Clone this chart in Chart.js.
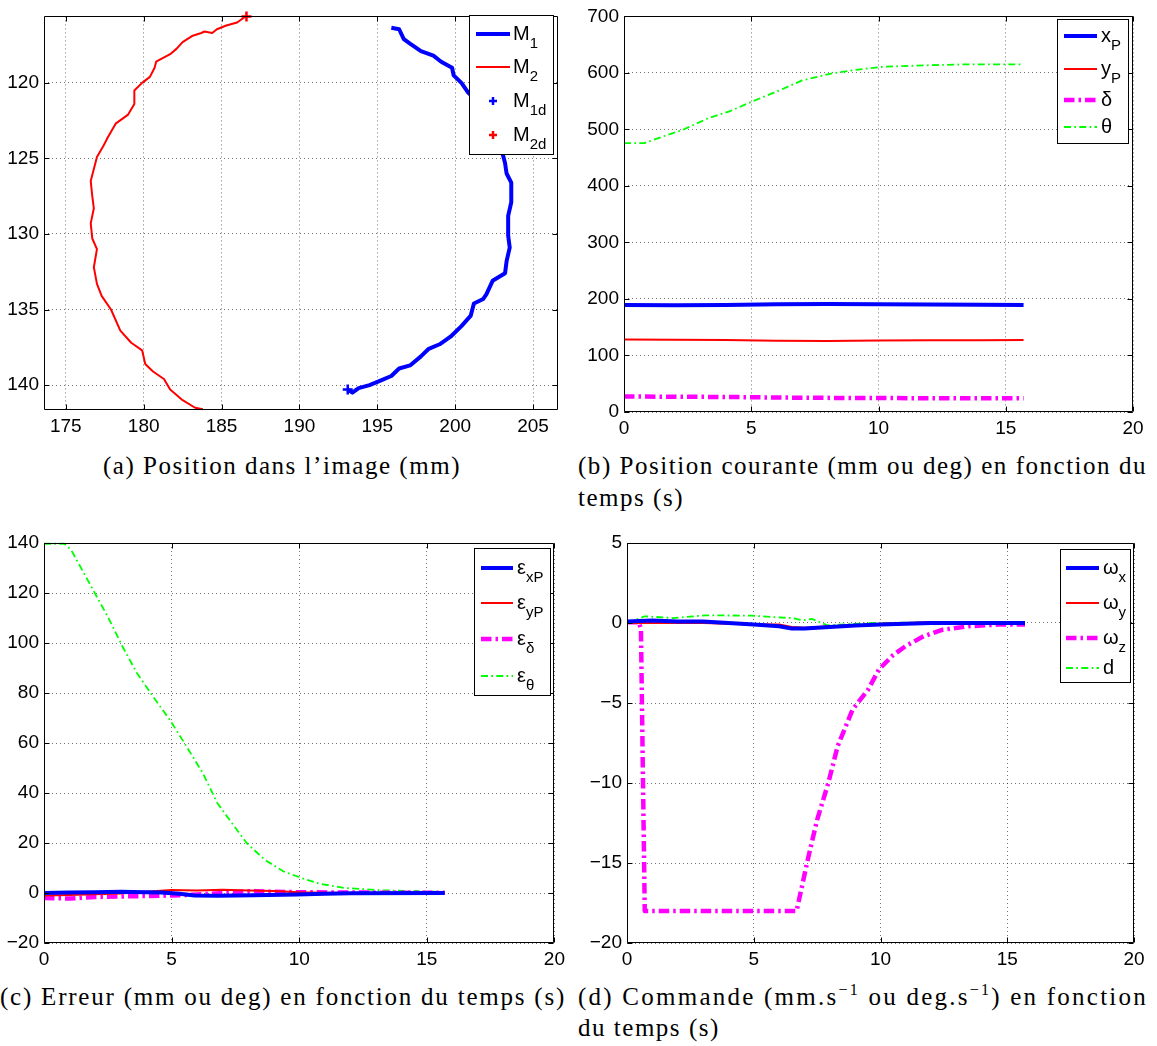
<!DOCTYPE html>
<html><head><meta charset="utf-8">
<script src="https://cdn.jsdelivr.net/npm/chart.js@4.4.1/dist/chart.umd.min.js"></script>
<style>
html,body{margin:0;padding:0;background:#fff}
body{width:1157px;height:1046px;position:relative;overflow:hidden}
canvas{position:absolute}
.cap{position:absolute;font-family:"Liberation Serif","Times New Roman",serif;font-size:25px;line-height:28px;white-space:nowrap;color:#000}
.cap sup{font-size:16px;line-height:0;vertical-align:10px}
</style></head><body>
<canvas id="ca"></canvas><canvas id="cb"></canvas><canvas id="cc"></canvas><canvas id="cd"></canvas>
<div class="cap" data-w="358" style="left:103px;top:452px">(a) Position dans l’image (mm)</div>
<div class="cap" data-w="569" style="left:578px;top:452px">(b) Position courante (mm ou deg) en fonction du</div>
<div class="cap" style="left:578px;top:484px">temps (s)</div>
<div class="cap" data-w="566" style="left:0px;top:983px">(c) Erreur (mm ou deg) en fonction du temps (s)</div>
<div class="cap" data-w="570" style="left:578px;top:983px">(d) Commande (mm.s<sup>−1</sup> ou deg.s<sup>−1</sup>) en fonction</div>
<div class="cap" style="left:578px;top:1014px">du temps (s)</div>
<script>
// ---------------- DATA ----------------
// (a) Position dans l'image (mm)
const m1X = [195.9,196.4,196.7,197.1,197.8,198.6,199.1,199.8,199.9,200.4,200.8,201.6,202.3,202.7,203.1,203.2,203.3,203.6,203.6,203.4,203.4,203.5,203.3,203.2,202.4,202.0,201.8,201.2,201.0,200.4,199.7,199.0,198.3,197.8,197.1,196.4,195.9,195.2,194.5,193.8,193.4,193.1];
const m1Y = [116.35,116.45,117.1,117.4,117.9,118.2,118.6,119.0,119.5,120.0,120.6,121.4,122.5,123.6,124.9,125.3,126.0,126.6,127.9,128.8,130.1,130.9,131.8,132.6,133.1,134.0,134.3,134.6,135.4,136.1,136.8,137.3,137.6,138.1,138.7,138.9,139.4,139.7,140.0,140.2,140.5,140.3];
const m2X = [186.56,186.0,185.3,184.7,184.4,183.9,183.7,183.1,182.5,182.1,181.7,180.8,180.7,180.4,179.9,179.4,179.4,179.0,178.2,177.7,177.4,177.0,176.8,176.6,176.7,176.8,176.6,176.7,177.0,176.8,177.0,177.3,177.9,178.5,179.2,179.9,180.1,180.6,181.3,181.7,182.5,183.3,183.8];
const m2Y = [115.59,116.0,116.2,116.45,116.7,116.6,116.7,116.9,117.3,117.75,118.1,118.6,119.0,119.6,120.0,120.5,121.4,122.1,122.7,123.6,124.2,124.9,125.7,126.5,127.5,128.3,129.3,130.3,131.0,132.2,133.3,134.1,135.0,136.4,137.2,137.7,138.6,139.1,139.6,140.3,141.0,141.5,141.6];
const m1d = [193.1, 140.3];
const m2d = [186.6, 115.6];
const aXTicks = [175,180,185,190,195,200,205];
const aYTicks = [120,125,130,135,140];

// (b) Position courante
const tTheta = [0,0.8,1.5,2.3,3.3,4.2,5.0,6.1,7.0,8.2,9.1,10.2,11.9,13.3,15.7];
const theta  = [475.8,475.8,487,499,519.6,533,548.7,569,586.7,599.5,605.4,611,613.5,615,615.3];
const tB     = [0,2,4,6,8,10,12,14,15.7];
const xP     = [189.5,189,189.5,190.5,191,190.5,190,189.8,189.5];
const yP     = [128.4,128,127.2,126,125.6,126.4,126.8,127.1,127.3];
const delta  = [27.4,27,26.6,25.6,25,24.6,24.5,24.5,24.5];
const bXTicks = [0,5,10,15,20];
const bYTicks = [0,100,200,300,400,500,600,700];

// (c) Erreur
const tETheta = [0,0.8,1.06,1.92,2.49,3.07,3.64,4.36,4.93,5.5,6.22,6.79,7.36,7.94,8.65,9.37,10.09,10.8,11.8,13.24,14.67,15.7];
const eTheta  = [139.7,139.7,137.3,121.3,110.7,98.7,88,77.3,69.3,60,48,36,28,20,13.3,8.7,6,3.7,2,1.07,0.7,0.4];
const tEX     = [0,1,2,3,4,4.6,5.3,5.9,6.8,8.2,9.9,11,12,15.7];
const eXP     = [0,0.2,0.3,0.5,0.3,0.2,-0.3,-1,-1.1,-0.9,-0.6,-0.3,-0.1,0];
const tEY     = [0,1,2,3,4,5,6,7,8,9,10,11,12,15.7];
const eYP     = [-1,-0.8,-0.5,-0.2,0.5,1.2,1,1.3,1,0.8,0.3,0.1,0,0];
const tED     = [0,1,2,3,4,5,6,7,8,9,10,12,14,15.7];
const eDelta  = [-2,-2.2,-1.6,-1.4,-1.2,-1,-0.6,0,0.7,0.5,0.3,0.2,0.1,0.1];
const cYTicks = [-20,0,20,40,60,80,100,120,140];

// (d) Commande
const tWz = [0,0.47,0.55,0.7,6.69,7.13,7.5,7.94,8.31,8.9,9.5,9.94,10.5,10.98,11.7,12.46,13.5,14.67,15.7];
const wz  = [0.05,0.05,-0.4,-18,-18,-14.8,-12.3,-10,-7.7,-5.4,-4.2,-2.9,-2.0,-1.46,-0.83,-0.42,-0.2,-0.1,-0.1];
const tW  = [0,1,2,3,4,5,6,6.5,7,8,9,10,12,14,15.7];
const wx  = [0.1,0.15,0.1,0.1,0,-0.1,-0.2,-0.35,-0.35,-0.25,-0.15,-0.1,0,0,0];
const wy  = [0,0,0,0,-0.05,-0.1,-0.1,-0.25,-0.3,-0.2,-0.15,-0.05,0.05,0.05,0.05];
const tDd = [0,0.7,1.8,3.1,4.9,5.95,6.5,6.9,7.3,7.9,8.8,9.8,12,15.7];
const dd  = [0,0.42,0.31,0.48,0.46,0.35,0.31,0.17,0.25,-0.15,-0.06,0,0.04,0.04];
const dYTicks = [-20,-15,-10,-5,0,5];

// ---------------- STYLE ----------------
const FONT = '"Liberation Sans", Arial, Helvetica, sans-serif';
const BLUE='#0000ff', RED='#ff0000', MAG='#ff00ff', GRN='#00ff00';
const ST = {
  thickBlue: {color:BLUE, width:4, dash:[]},
  thinRed:   {color:RED, width:2, dash:[]},
  magDD:     {color:MAG, width:4.5, dash:[10.5,4,2.5,4]},
  grnDD:     {color:GRN, width:1.8, dash:[7,3.3,1.7,3.3]}
};
function pts(xs, ys){ return xs.map((x,i)=>({x:x, y:ys[i]})); }
function line(xs, ys, st){
  return {data:pts(xs,ys), showLine:true, borderColor:st.color, backgroundColor:st.color,
    borderWidth:st.width, borderDash:st.dash, borderCapStyle:'butt', borderJoinStyle:'round',
    pointRadius:0, pointHoverRadius:0, tension:0, fill:false, clip:3};
}
function marker(p, color){
  return {data:[{x:p[0], y:p[1]}], showLine:false, pointStyle:'cross', pointRadius:5,
    pointBorderWidth:2.5, borderColor:color, backgroundColor:color, pointHoverRadius:0, clip:false};
}
const minusFmt = v => String(v).replace('-', '\u2212');

const framePlugin = {
  id:'frame',
  afterDraw(chart, args, o){
    const ctx = chart.ctx, a = chart.chartArea, sx = chart.scales.x, sy = chart.scales.y;
    ctx.save();
    ctx.strokeStyle = '#000'; ctx.lineWidth = 1; ctx.setLineDash([]);
    const L=Math.round(a.left)+0.5, R=Math.round(a.right)-0.5, T=Math.round(a.top)+0.5, B=Math.round(a.bottom)-0.5;
    ctx.beginPath(); ctx.rect(L, T, R-L, B-T); ctx.stroke();
    const tl = 5;
    ctx.beginPath();
    sx.ticks.forEach(t=>{ const p=Math.round(sx.getPixelForValue(t.value))+0.5;
      ctx.moveTo(p,B); ctx.lineTo(p,B-tl); ctx.moveTo(p,T); ctx.lineTo(p,T+tl); });
    sy.ticks.forEach(t=>{ const p=Math.round(sy.getPixelForValue(t.value))+0.5;
      ctx.moveTo(L,p); ctx.lineTo(L+tl,p); ctx.moveTo(R,p); ctx.lineTo(R-tl,p); });
    ctx.stroke();
    // legend
    const lg = o.legend;
    if (lg){
      const ox=o.ox, oy=o.oy;
      const bx=lg.box[0]-ox, by=lg.box[1]-oy, bw=lg.box[2]-lg.box[0], bh=lg.box[3]-lg.box[1];
      ctx.fillStyle='#fff'; ctx.fillRect(bx,by,bw,bh);
      ctx.strokeStyle='#000'; ctx.lineWidth=1;
      ctx.strokeRect(Math.round(bx)+0.5, Math.round(by)+0.5, Math.round(bw), Math.round(bh));
      lg.entries.forEach(e=>{
        const y = e.y - oy;
        const x1 = lg.x1-ox, x2 = lg.x2-ox;
        if (e.marker){
          const cx=(x1+x2)/2; ctx.strokeStyle=e.marker; ctx.lineWidth=2.5; ctx.setLineDash([]);
          ctx.beginPath(); ctx.moveTo(cx-4,y); ctx.lineTo(cx+4,y); ctx.moveTo(cx,y-4); ctx.lineTo(cx,y+4); ctx.stroke();
        } else {
          ctx.strokeStyle=e.st.color; ctx.lineWidth=e.st.width; ctx.setLineDash(e.st.dash); ctx.lineCap='butt';
          ctx.beginPath(); ctx.moveTo(x1,y); ctx.lineTo(x2,y); ctx.stroke(); ctx.setLineDash([]);
        }
        ctx.fillStyle='#000'; ctx.textBaseline='alphabetic'; ctx.textAlign='left';
        ctx.font = '20px '+FONT;
        const tx = lg.tx-ox;
        ctx.fillText(e.label[0], tx, y+6);
        if (e.label[1]){
          const w = ctx.measureText(e.label[0]).width;
          ctx.font = '15px '+FONT;
          ctx.fillText(e.label[1], tx+w, y+14);
        }
      });
    }
    ctx.restore();
  }
};

function mkChart(id, cv, area, xs, ys, datasets, legend){
  const c = document.getElementById(id);
  c.width = cv.w; c.height = cv.h;
  c.style.left = cv.left+'px'; c.style.top = cv.top+'px';
  c.style.width = cv.w+'px'; c.style.height = cv.h+'px';
  const yW = area.L - cv.left, xH = cv.top + cv.h - area.B;
  const tickFont = {family:FONT, size:19};
  const axis = (s, isX) => ({
    type:'linear', position: isX?'bottom':'left', min:s.min, max:s.max, reverse:!!s.reverse,
    afterBuildTicks: sc => { sc.ticks = s.ticks.map(v=>({value:v})); },
    afterFit: sc => { if (isX) sc.height = xH; else sc.width = yW; },
    ticks:{font:tickFont, color:'#000', padding:5, maxRotation:0, autoSkip:false, callback: minusFmt},
    grid:{color:'rgba(0,0,0,0.55)', lineWidth:1, drawTicks:false},
    border:{display:false, dash:[1,3]}
  });
  return new Chart(c, {
    type:'scatter',
    data:{datasets},
    options:{
      responsive:false, animation:false, devicePixelRatio:1,
      layout:{autoPadding:false, padding:{left:0, top: area.T - cv.top, right: cv.left + cv.w - area.R, bottom:0}},
      plugins:{legend:{display:false}, tooltip:{enabled:false},
        frame:{legend:legend, ox:cv.left, oy:cv.top}},
      scales:{x:axis(xs,true), y:axis(ys,false)}
    },
    plugins:[framePlugin]
  });
}

// (a)
mkChart('ca', {left:0, top:0, w:570, h:440}, {L:44, R:558, T:10, B:410},
  {min:173.6, max:206.6, ticks:aXTicks}, {min:115.6, max:141.65, ticks:aYTicks, reverse:true},
  [line(m1X,m1Y,ST.thickBlue), line(m2X,m2Y,ST.thinRed), marker(m1d,BLUE), marker(m2d,RED)],
  {box:[469,15,553,154], x1:476, x2:510, tx:513, entries:[
    {label:['M','1'], y:34, st:ST.thickBlue},
    {label:['M','2'], y:67, st:ST.thinRed},
    {label:['M','1d'], y:101, marker:BLUE},
    {label:['M','2d'], y:135, marker:RED}]});

// (b)
mkChart('cb', {left:570, top:0, w:587, h:440}, {L:624, R:1133, T:12, B:412},
  {min:0, max:20, ticks:bXTicks}, {min:0, max:700, ticks:bYTicks},
  [line(tB,xP,ST.thickBlue), line(tB,yP,ST.thinRed), line(tB,delta,ST.magDD), line(tTheta,theta,ST.grnDD)],
  {box:[1057,19,1128,143], x1:1064, x2:1097, tx:1101, entries:[
    {label:['x','P'], y:36, st:ST.thickBlue},
    {label:['y','P'], y:69, st:ST.thinRed},
    {label:['δ',''], y:100, st:ST.magDD},
    {label:['θ',''], y:127, st:ST.grnDD}]});

// (c)
mkChart('cc', {left:0, top:520, w:570, h:450}, {L:44, R:556, T:543, B:943},
  {min:0, max:20, ticks:bXTicks}, {min:-20, max:140, ticks:cYTicks},
  [line(tEX,eXP,ST.thickBlue), line(tEY,eYP,ST.thinRed), line(tED,eDelta,ST.magDD), line(tETheta,eTheta,ST.grnDD)],
  {box:[474,548,550,695], x1:481, x2:513, tx:517, entries:[
    {label:['ε','xP'], y:568, st:ST.thickBlue},
    {label:['ε','yP'], y:603, st:ST.thinRed},
    {label:['ε','δ'], y:639, st:ST.magDD},
    {label:['ε','θ'], y:676, st:ST.grnDD}]});

// (d)
mkChart('cd', {left:570, top:520, w:587, h:450}, {L:627, R:1134, T:543, B:943},
  {min:0, max:20, ticks:bXTicks}, {min:-20, max:5, ticks:dYTicks},
  [line(tW,wx,ST.thickBlue), line(tW,wy,ST.thinRed), line(tWz,wz,ST.magDD), line(tDd,dd,ST.grnDD)],
  {box:[1060,549,1130,682], x1:1066, x2:1099, tx:1103, entries:[
    {label:['ω','x'], y:568, st:ST.thickBlue},
    {label:['ω','y'], y:603, st:ST.thinRed},
    {label:['ω','z'], y:638, st:ST.magDD},
    {label:['d',''], y:668, st:ST.grnDD}]});

// caption fitting (stretch each full-width line to its measured width)
function fitCaps(){
  document.querySelectorAll('.cap[data-w]').forEach(el=>{
    el.style.letterSpacing='0px';
    const target = +el.dataset.w;
    const nat = el.getBoundingClientRect().width;
    const n = el.textContent.length;
    el.style.letterSpacing = ((target - nat)/n).toFixed(3)+'px';
  });
  const ref = document.querySelector('.cap[data-w="358"]').style.letterSpacing;
  document.querySelectorAll('.cap:not([data-w])').forEach(el=>{ el.style.letterSpacing = ref; });
}
fitCaps();
if (document.fonts && document.fonts.ready) document.fonts.ready.then(fitCaps);
</script>
</body></html>
